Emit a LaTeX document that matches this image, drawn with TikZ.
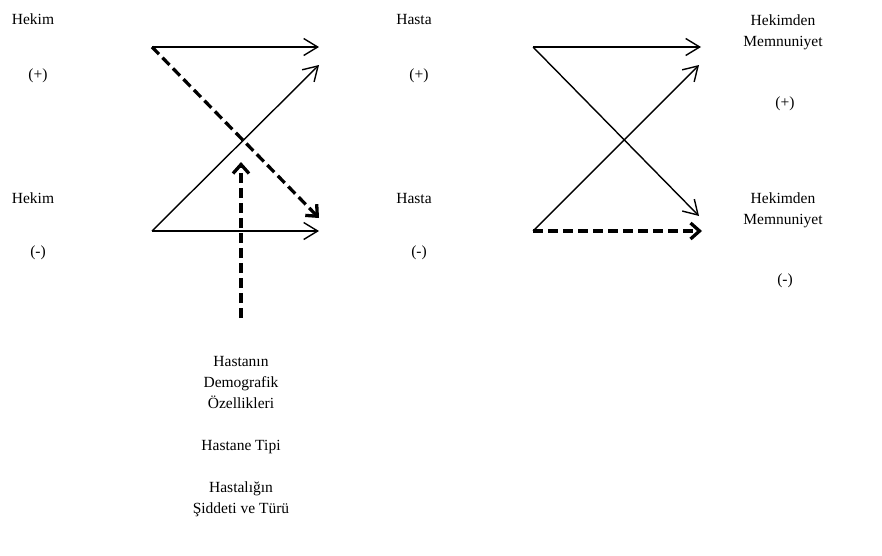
\documentclass[tikz,border=0pt]{standalone}
\usepackage{fontspec}
\setmainfont{Liberation Serif}
\usetikzlibrary{arrows.meta}
\begin{document}
\begin{tikzpicture}[x=1pt,y=-1pt,
  lbl/.style={font=\fontsize{15.5}{21}\selectfont, inner sep=0pt, align=center},
  solidarr/.style={line width=1.4pt, -{Straight Barb[length=14pt,width=17pt,line width=1.4pt]}},
  dasharr/.style={line width=3.3pt, dash pattern=on 10pt off 5pt, -{Straight Barb[length=9pt,width=16pt,line width=3.3pt]}}]
\useasboundingbox (0,0) rectangle (882,555);
% labels
\node[lbl] (hekP) at (33,19) {Hekim};
\node[lbl] (hekPs) at (38,76) {(+)};
\node[lbl] (hekM) at (33,198) {Hekim};
\node[lbl] (hekMs) at (38,253) {(-)};
\node[lbl] (hasP) at (414,19) {Hasta};
\node[lbl] (hasPs) at (419,76) {(+)};
\node[lbl] (hasM) at (414,198) {Hasta};
\node[lbl] (hasMs) at (419,253) {(-)};
\node[lbl] (memP) at (783,32) {Hekimden\\Memnuniyet};
\node[lbl] (memPs) at (785,104) {(+)};
\node[lbl] (memM) at (783,210) {Hekimden\\Memnuniyet};
\node[lbl] (memMs) at (785,281) {(-)};
\node[lbl] (fac) at (241,437) {Hastanın\\Demografik\\Özellikleri\\[21pt]Hastane Tipi\\[21pt]Hastalığın\\Şiddeti ve Türü};
% endpoints
\coordinate (a1) at (152,47);
\coordinate (a2) at (152,231);
\coordinate (b1) at (319,47);
\coordinate (b2) at (319,65);
\coordinate (b3) at (319,218);
\coordinate (b4) at (319,231);
\coordinate (v1) at (241,318);
\coordinate (v2) at (241,162);
\coordinate (c1) at (533,47);
\coordinate (c2) at (533,231);
\coordinate (d1) at (701,47);
\coordinate (d2) at (699,65);
\coordinate (d3) at (699,216);
\coordinate (d4) at (702,231);
% left block
\draw[solidarr] (a1) -- (b1);
\draw[solidarr] (a2) -- (b2);
\draw[solidarr] (a2) -- (b4);
\draw[dasharr] (a1) -- (b3);
\draw[dasharr] (v1) -- (v2);
% right block
\draw[solidarr] (c1) -- (d1);
\draw[solidarr] (c2) -- (d2);
\draw[solidarr] (c1) -- (d3);
\draw[dasharr] (c2) -- (d4);
\end{tikzpicture}
\end{document}
